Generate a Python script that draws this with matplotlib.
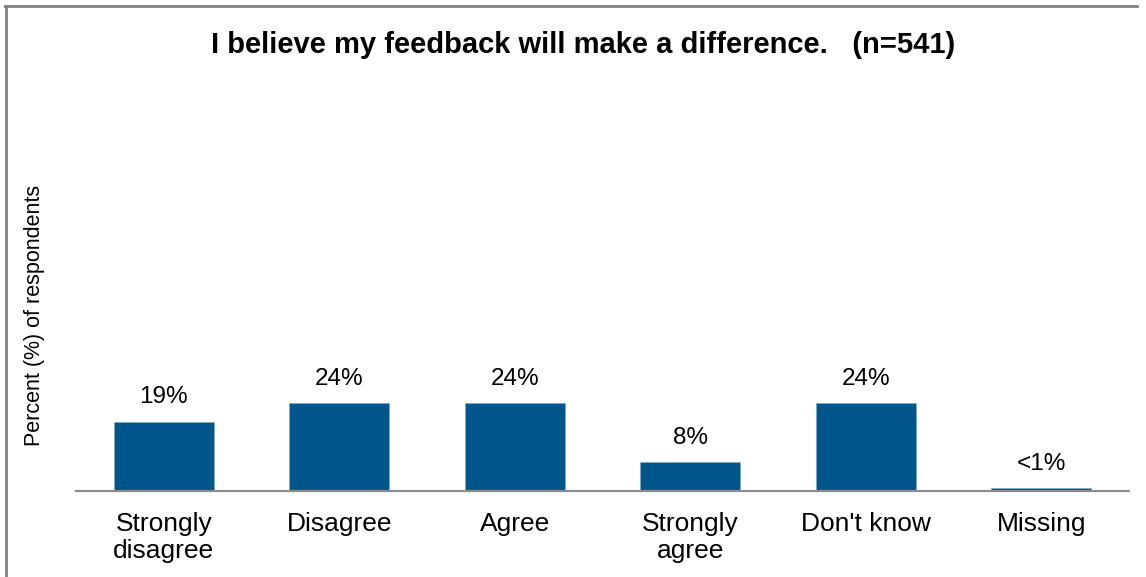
import numpy as np
import matplotlib.pyplot as plt
from matplotlib.lines import Line2D

plt.rcParams['font.family'] = ['Liberation Sans', 'DejaVu Sans']

categories = ['Strongly\ndisagree', 'Disagree', 'Agree', 'Strongly\nagree', "Don't know", 'Missing']
values = [19, 24, 24, 8, 24, 0.8]
labels = ['19%', '24%', '24%', '8%', '24%', '<1%']

fig = plt.figure(figsize=(11.46, 5.77), dpi=100)
ax = fig.add_axes([76 / 1146, 1 - 491 / 577, 1053 / 1146, 352 / 577])

x = np.arange(len(categories))
bars = ax.bar(x, values, width=0.57, color='#00568A', edgecolor='#7FA9C6', linewidth=0.6, zorder=2)

for b, lab in zip(bars, labels):
    ax.annotate(lab, (b.get_x() + b.get_width() / 2, b.get_height()),
                xytext=(0, 9.5), textcoords='offset points',
                ha='center', va='bottom', fontsize=17.5)

ax.set_xlim(-0.5, len(categories) - 0.5)
ax.set_ylim(0, 96.4)
ax.set_xticks(x)
ax.set_xticklabels(categories, fontsize=19, linespacing=1.18)
ax.tick_params(axis='x', length=0, pad=15)
ax.set_yticks([])
for s in ['top', 'right', 'left']:
    ax.spines[s].set_visible(False)
ax.spines['bottom'].set_color('#8C8C8C')
ax.spines['bottom'].set_linewidth(1.6)

ax.set_ylabel('Percent (%) of respondents', fontsize=15.5, labelpad=22)

fig.text(583 / 1146, 1 - 45 / 577, 'I believe my feedback will make a difference.   (n=541)',
         ha='center', va='center', fontsize=21, fontweight='bold')

# frame lines along the left and top edges
fig.add_artist(Line2D([6 / 1146, 6 / 1146], [0, 1 - 6 / 577], transform=fig.transFigure,
                      color='#808080', linewidth=2))
fig.add_artist(Line2D([5 / 1146, 1137 / 1146], [1 - 6 / 577, 1 - 6 / 577], transform=fig.transFigure,
                      color='#808080', linewidth=2))

fig.savefig('out.png', dpi=100)
